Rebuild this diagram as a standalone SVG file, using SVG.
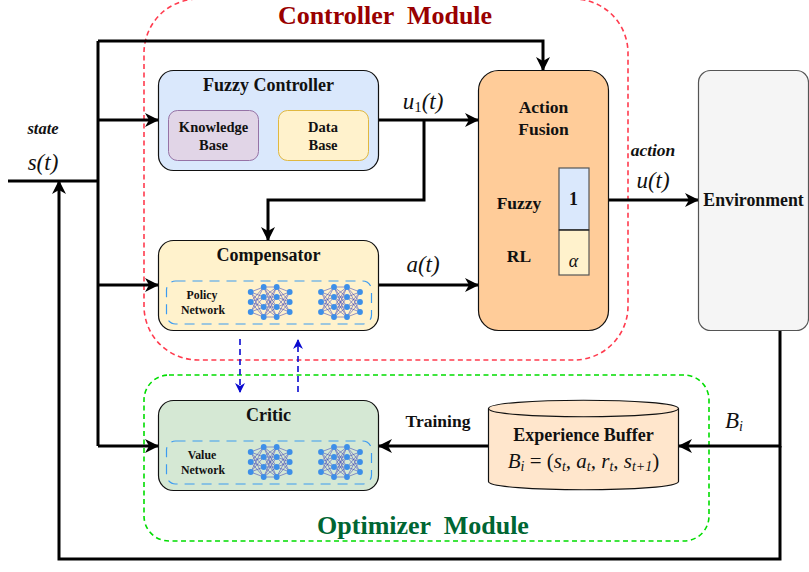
<svg xmlns="http://www.w3.org/2000/svg" xmlns:xlink="http://www.w3.org/1999/xlink" width="809" height="572" viewBox="0 0 809 572">
<style>
.b{font-family:"Liberation Serif","Times New Roman",serif;font-weight:bold;fill:#111;text-anchor:middle}
.m{font-family:"Liberation Serif","Times New Roman",serif;font-style:italic;fill:#111;text-anchor:middle;font-size:23px}
.box{stroke:#111;stroke-width:1.2}
.c{fill:none;stroke:#000;stroke-width:3}
.dash{fill:none;stroke:#3d9bf0;stroke-width:1.2;stroke-dasharray:10 7}
.nl{stroke:#4a50b8;stroke-width:.6;fill:none}
.n{fill:#3d8fe8}
</style>
<defs>
<marker id="a" viewBox="0 0 14 14" refX="13" refY="7" markerWidth="14" markerHeight="14" markerUnits="userSpaceOnUse" orient="auto"><path d="M0 0L14 7L0 14L4 7Z" fill="#000"/></marker>
<marker id="bl" viewBox="0 0 10 10" refX="9" refY="5" markerWidth="10" markerHeight="10" markerUnits="userSpaceOnUse" orient="auto"><path d="M0 0L10 5L0 10L3 5Z" fill="#0a0ad0"/></marker>
<g id="net">
<path class="nl" d="M0 5L13 0M0 5L13 10M0 5L13 20M0 5L13 30M0 15L13 0M0 15L13 10M0 15L13 20M0 15L13 30M0 25L13 0M0 25L13 10M0 25L13 20M0 25L13 30M13 0L26 0M13 0L26 10M13 0L26 20M13 0L26 30M13 10L26 0M13 10L26 10M13 10L26 20M13 10L26 30M13 20L26 0M13 20L26 10M13 20L26 20M13 20L26 30M13 30L26 0M13 30L26 10M13 30L26 20M13 30L26 30M26 0L39 5M26 0L39 15M26 0L39 25M26 10L39 5M26 10L39 15M26 10L39 25M26 20L39 5M26 20L39 15M26 20L39 25M26 30L39 5M26 30L39 15M26 30L39 25"/>
<g class="n"><circle cx="0" cy="5" r="2.9"/><circle cx="0" cy="15" r="2.9"/><circle cx="0" cy="25" r="2.9"/><circle cx="13" cy="0" r="2.9"/><circle cx="13" cy="10" r="2.9"/><circle cx="13" cy="20" r="2.9"/><circle cx="13" cy="30" r="2.9"/><circle cx="26" cy="0" r="2.9"/><circle cx="26" cy="10" r="2.9"/><circle cx="26" cy="20" r="2.9"/><circle cx="26" cy="30" r="2.9"/><circle cx="39" cy="5" r="2.9"/><circle cx="39" cy="15" r="2.9"/><circle cx="39" cy="25" r="2.9"/></g>
</g>
</defs>
<rect width="809" height="572" fill="#fff"/>

<g id="controller-module">
<rect x="144" y="-1" width="484" height="361" rx="54" fill="none" stroke="#ff3b4e" stroke-width="1.6" stroke-dasharray="5 3.5"/>
<text class="b" x="385" y="24" font-size="26" style="fill:#990000" xml:space="preserve">Controller  Module</text>
</g>
<g id="optimizer-module">
<rect x="144" y="375" width="565" height="166" rx="25" fill="none" stroke="#00dd00" stroke-width="1.6" stroke-dasharray="5 3.5"/>
<text class="b" x="423" y="534" font-size="26" style="fill:#006633" xml:space="preserve">Optimizer  Module</text>
</g>

<g id="connectors">
<path class="c" d="M8 181H98"/>
<path class="c" d="M98 41V446"/>
<path class="c" marker-end="url(#a)" d="M98 41H543V70"/>
<path class="c" marker-end="url(#a)" d="M98 120H158"/>
<path class="c" marker-end="url(#a)" d="M98 285H158"/>
<path class="c" marker-end="url(#a)" d="M98 446H158"/>
<path class="c" marker-end="url(#a)" d="M379 120H478"/>
<path class="c" marker-end="url(#a)" d="M424 120V200H268V240"/>
<path class="c" marker-end="url(#a)" d="M379 285H478"/>
<path class="c" marker-end="url(#a)" d="M608 200H698"/>
<path class="c" marker-end="url(#a)" d="M488 446H379"/>
<path class="c" marker-end="url(#a)" d="M780 330V446H679"/>
<path class="c" marker-end="url(#a)" d="M780 446V559H59V181"/>
<path fill="none" stroke="#0a0ad0" stroke-width="1.6" stroke-dasharray="6 4" marker-end="url(#bl)" d="M240 339V392"/>
<path fill="none" stroke="#0a0ad0" stroke-width="1.6" stroke-dasharray="6 4" marker-end="url(#bl)" d="M298 392V340"/>
</g>

<g id="fuzzy-controller">
<rect class="box" x="158.500" y="70.500" width="220" height="100" rx="15" fill="#dae8fc"/>
<text class="b" x="268.500" y="91" font-size="18">Fuzzy Controller</text>
</g>
<g id="knowledge-base">
<rect x="168.500" y="110.500" width="90" height="50" rx="9" fill="#e1d5e7" stroke="#9673a6"/>
<text class="b" x="213.500" y="132" font-size="14.500">Knowledge</text>
<text class="b" x="213.500" y="150" font-size="14.500">Base</text>
</g>
<g id="data-base">
<rect x="278.500" y="110.500" width="90" height="50" rx="9" fill="#fff2cc" stroke="#e0b840"/>
<text class="b" x="323" y="132" font-size="14.500">Data</text>
<text class="b" x="323" y="150" font-size="14.500">Base</text>
</g>

<g id="compensator">
<rect class="box" x="158.500" y="240.500" width="220" height="90" rx="15" fill="#fff2cc"/>
<text class="b" x="268.500" y="261" font-size="18">Compensator</text>
<rect class="dash" x="166.500" y="281" width="205" height="43" rx="9"/>
<text class="b" x="202" y="299" font-size="11.800">Policy</text>
<text class="b" x="203" y="314" font-size="11.800">Network</text>
<use xlink:href="#net" href="#net" x="250.700" y="287"/>
<use xlink:href="#net" href="#net" x="321" y="287"/>
</g>

<g id="critic">
<rect class="box" x="158.500" y="400.500" width="220" height="90" rx="15" fill="#d5e8d4"/>
<text class="b" x="268.500" y="421" font-size="18">Critic</text>
<rect class="dash" x="166.500" y="441" width="205" height="43" rx="9"/>
<text class="b" x="202" y="459" font-size="11.800">Value</text>
<text class="b" x="203" y="474" font-size="11.800">Network</text>
<use xlink:href="#net" href="#net" x="250.700" y="447"/>
<use xlink:href="#net" href="#net" x="321" y="447"/>
</g>

<g id="action-fusion">
<rect class="box" x="478.500" y="70.500" width="130" height="260" rx="20" fill="#ffcc99"/>
<text class="b" x="543.500" y="113" font-size="17.500">Action</text>
<text class="b" x="543.500" y="135" font-size="17.500">Fusion</text>
<text class="b" x="519" y="209" font-size="17.500">Fuzzy</text>
<text class="b" x="519" y="262" font-size="17.500">RL</text>
<rect x="559" y="168" width="30" height="62" fill="#dae8fc" stroke="#555" stroke-width="1.200"/>
<rect x="559" y="230" width="30" height="45" fill="#fff2cc" stroke="#555" stroke-width="1.200"/>
<path d="M559 230H589" stroke="#111" stroke-width="1"/>
<text class="b" x="573.500" y="205" font-size="18">1</text>
<text class="m" x="573.500" y="267" style="font-size:18px">α</text>
</g>

<g id="environment">
<rect x="698.500" y="70.500" width="110" height="260" rx="12" fill="#f5f5f5" stroke="#555" stroke-width="1.200"/>
<text class="b" x="753.500" y="206" font-size="17.800">Environment</text>
</g>

<g id="experience-buffer">
<path d="M488.500 408.500V481.500C488.500 492.500 678.500 492.500 678.500 481.500V408.500C678.500 397.500 488.500 397.500 488.500 408.500Z" fill="#ffe6cc" stroke="#111" stroke-width="1.200"/>
<path d="M488.500 408.500C488.500 419.500 678.500 419.500 678.500 408.500" fill="none" stroke="#111" stroke-width="1.200"/>
<text class="b" x="583.500" y="441" font-size="18">Experience Buffer</text>
<text class="m" x="583.500" y="468" style="font-size:21px">B<tspan dy="3" font-size="14">i</tspan><tspan dy="-3" font-style="normal"> = (</tspan><tspan>s</tspan><tspan dy="3" font-size="14">t</tspan><tspan dy="-3">, a</tspan><tspan dy="3" font-size="14">t</tspan><tspan dy="-3">, r</tspan><tspan dy="3" font-size="14">t</tspan><tspan dy="-3">, s</tspan><tspan dy="3" font-size="14">t+1</tspan><tspan dy="-3" font-style="normal">)</tspan></text>
</g>

<g id="labels">
<text class="b" x="43" y="134" font-size="16.500" font-style="italic">state</text>
<text class="m" x="43" y="170">s(t)</text>
<text class="m" x="423" y="109">u<tspan dy="3" font-size="15" font-style="normal">1</tspan><tspan dy="-3">(t)</tspan></text>
<text class="m" x="423" y="272">a(t)</text>
<text class="b" x="653" y="156" font-size="17.500" font-style="italic">action</text>
<text class="m" x="653" y="188">u(t)</text>
<text class="b" x="438" y="427" font-size="17.500">Training</text>
<text class="m" x="734" y="428">B<tspan dy="3" font-size="14">i</tspan></text>
</g>
</svg>
